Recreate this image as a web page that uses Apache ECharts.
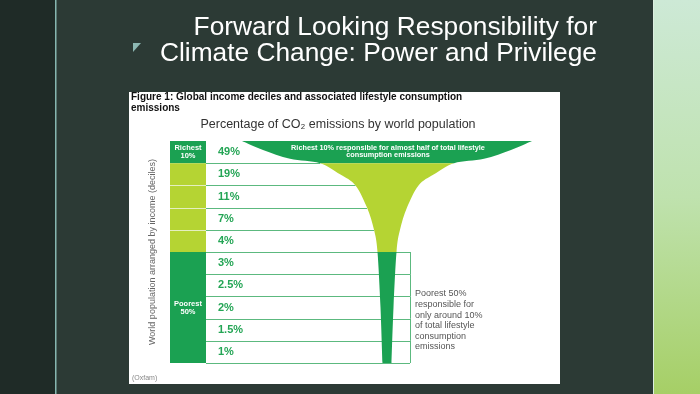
<!DOCTYPE html>
<html>
<head>
<meta charset="utf-8">
<script src="https://cdn.jsdelivr.net/npm/echarts@6/dist/echarts.min.js"></script>
<style>
  html, body { margin: 0; padding: 0; background: #2c3a35; }
  #chart { width: 700px; height: 394px; }
</style>
</head>
<body>
<div id="chart"></div>
<script>
// income deciles, richest first, and their share of lifestyle consumption emissions (%)
const deciles = ['D10', 'D9', 'D8', 'D7', 'D6', 'D5', 'D4', 'D3', 'D2', 'D1'];
const emissionShare = [49, 19, 11, 7, 4, 3, 2.5, 2, 1.5, 1];
// groups of rows: [firstRow, lastRow + 1]
const groupRows = [[0, 1], [1, 5], [5, 10]];
const groupNames = ['Richest\n10%', '', 'Poorest\n50%'];
// champagne glass outline: row position -> half width
const glassRow = [0, 0.4, 0.8, 1, 1.5, 2, 3, 4, 5, 7.5, 10];
const glassHalf = [145, 124, 97, 67, 47, 31.5, 20, 13, 9.5, 6.5, 4.5];

const FONT = '"Liberation Sans", Arial, sans-serif';
const GREEN = '#1ba152', LIME = '#b5d433', LINE = '#5cb97f', PCT = '#24a555';
const groupColor = [GREEN, LIME, GREEN];
const cellW = 36, boxRight = 240, glassCenter = 217;

function groupOf(i) { return groupRows.findIndex(r => i >= r[0] && i < r[1]); }
function halfAt(row) { return glassHalf[glassRow.indexOf(row)]; }

function txt(x, y, text, font, fill, align, vAlign, lh) {
  return {
    type: 'text', x: x, y: y,
    style: { text: text, font: font, fill: fill, align: align, textAlign: align,
             verticalAlign: vAlign, textVerticalAlign: vAlign, lineHeight: lh }
  };
}

function renderGroup(params, api) {
  const g = params.dataIndex;
  const p0 = api.coord([0, api.value(0)]);
  const p1 = api.coord([cellW, api.value(1)]);
  return {
    type: 'group',
    children: [
      { type: 'rect', shape: { x: p0[0], y: p0[1], width: p1[0] - p0[0], height: p1[1] - p0[1] },
        style: { fill: groupColor[g] } },
      txt((p0[0] + p1[0]) / 2, (p0[1] + p1[1]) / 2, groupNames[g], 'bold 7.5px ' + FONT, '#fff', 'center', 'middle', 8)
    ]
  };
}

function renderRow(params, api) {
  const i = params.dataIndex;
  const yt = api.coord([0, i])[1];
  const yb = Math.round(api.coord([0, i + 1])[1]) + 0.5;
  const x0 = api.coord([0, 0])[0];
  const xCell = api.coord([cellW, 0])[0];
  const poorStart = groupRows[2][0];
  const end = i + 1 < poorStart ? glassCenter - halfAt(i + 1) : boxRight;
  const xEnd = api.coord([end, 0])[0];
  const xBox = Math.round(api.coord([boxRight, 0])[0]) + 0.5;
  const children = [
    { type: 'line', shape: { x1: xCell, y1: yb, x2: xEnd, y2: yb }, style: { stroke: LINE, lineWidth: 1 } },
    txt(api.coord([cellW + 12, 0])[0], (yt + yb) / 2, api.value(1) + '%', 'bold 11px ' + FONT, PCT, 'left', 'middle')
  ];
  if (groupOf(i) === 1 && groupOf(i + 1) === 1) {
    children.push({ type: 'line', shape: { x1: x0, y1: yb, x2: xCell, y2: yb }, style: { stroke: '#e4efc0', lineWidth: 1 } });
  }
  if (i >= poorStart) {
    children.push({ type: 'line', shape: { x1: xBox, y1: yt, x2: xBox, y2: api.coord([0, i + 1])[1] },
      style: { stroke: LINE, lineWidth: 1 } });
  }
  return { type: 'group', children: children };
}

// catmull-rom segment from p[k] to p[k + dir]
function seg(p, k, dir) {
  const n = p.length;
  const at = j => p[Math.max(0, Math.min(n - 1, j))];
  const p0 = at(k - dir), p1 = p[k], p2 = p[k + dir], p3 = at(k + 2 * dir);
  const c1 = [p1[0] + (p2[0] - p0[0]) / 6, p1[1] + (p2[1] - p0[1]) / 6];
  const c2 = [p2[0] - (p3[0] - p1[0]) / 6, p2[1] - (p3[1] - p1[1]) / 6];
  return 'C' + c1.join(',') + ' ' + c2.join(',') + ' ' + p2.join(',');
}

function renderGlass(params, api) {
  const left = glassRow.map((r, k) => api.coord([glassCenter - glassHalf[k], r]));
  const right = glassRow.map((r, k) => api.coord([glassCenter + glassHalf[k], r]));
  const children = groupRows.map((r, g) => {
    const a = glassRow.indexOf(r[0]), b = glassRow.indexOf(r[1]);
    let d = 'M' + left[a].join(',');
    for (let k = a; k < b; k++) d += seg(left, k, 1);
    d += 'L' + right[b].join(',');
    for (let k = b; k > a; k--) d += seg(right, k, -1);
    d += 'Z';
    return { type: 'path', shape: { pathData: d }, style: { fill: groupColor[g] } };
  });
  const c = api.coord([glassCenter + 1, 0.47]);
  children.push(txt(c[0], c[1], 'Richest 10% responsible for almost half of total lifestyle\nconsumption emissions',
    'bold 7.3px ' + FONT, '#fff', 'center', 'middle', 7.5));
  const a = api.coord([boxRight + 5, 8.08]);
  children.push(txt(a[0], a[1], 'Poorest 50%\nresponsible for\nonly around 10%\nof total lifestyle\nconsumption\nemissions',
    '9px ' + FONT, '#555', 'left', 'middle', 10.6));
  return { type: 'group', children: children };
}

const chart = echarts.init(document.getElementById('chart'));
chart.setOption({
  backgroundColor: '#2c3a35',
  animation: false,
  grid: { left: 170, top: 141, width: 390, height: 222 },
  xAxis: { type: 'value', min: 0, max: 390, show: false },
  yAxis: {
    type: 'value', min: 0, max: 10, inverse: true,
    name: 'World population arranged by income (deciles)',
    nameLocation: 'middle', nameRotate: 90, nameGap: 13,
    nameTextStyle: { color: '#666', fontSize: 9, fontFamily: FONT },
    axisLine: { show: false }, axisTick: { show: false }, axisLabel: { show: false }, splitLine: { show: false }
  },
  graphic: [
    { type: 'rect', shape: { x: 0, y: 0, width: 55, height: 394 }, style: { fill: '#1f2b27' } },
    { type: 'rect', shape: { x: 55, y: 0, width: 1.5, height: 394 }, style: { fill: '#86b6b0' } },
    { type: 'rect', shape: { x: 653, y: 0, width: 47, height: 394 },
      style: { fill: new echarts.graphic.LinearGradient(0, 0, 0, 1, [
        { offset: 0, color: '#cde9d6' }, { offset: 0.5, color: '#bfe2ae' }, { offset: 1, color: '#a6cf66' }]) } },
    { type: 'rect', shape: { x: 653, y: 0, width: 1, height: 394 }, style: { fill: '#dceee0' } },
    { type: 'polygon', shape: { points: [[133, 43], [141, 43], [133, 52]] }, style: { fill: '#8db8b3' } },
    txt(597, 41, 'Forward Looking Responsibility for', '26.3px ' + FONT, '#fff', 'right', 'bottom'),
    txt(597, 67, 'Climate Change: Power and Privilege', '26.3px ' + FONT, '#fff', 'right', 'bottom'),
    { type: 'rect', shape: { x: 129, y: 92, width: 431, height: 292 }, style: { fill: '#fff' } },
    txt(131, 92, 'Figure 1: Global income deciles and associated lifestyle consumption\nemissions',
      'bold 10px ' + FONT, '#111', 'left', 'top', 10.5),
    txt(338, 125, 'Percentage of CO\u2082 emissions by world population', '12.5px ' + FONT, '#333', 'center', 'middle'),
    txt(132, 378, '(Oxfam)', '7px ' + FONT, '#888', 'left', 'middle')
  ],
  series: [
    { type: 'custom', name: 'groups', z: 2, renderItem: renderGroup, data: groupRows.map(r => [r[0], r[1]]) },
    { type: 'custom', name: 'deciles', z: 3, renderItem: renderRow,
      data: emissionShare.map((v, i) => ({ name: deciles[i], value: [i, v] })) },
    { type: 'custom', name: 'glass', z: 4, renderItem: renderGlass, data: [[0, 0]] }
  ]
});
window.addEventListener('resize', () => chart.resize());
</script>
</body>
</html>
